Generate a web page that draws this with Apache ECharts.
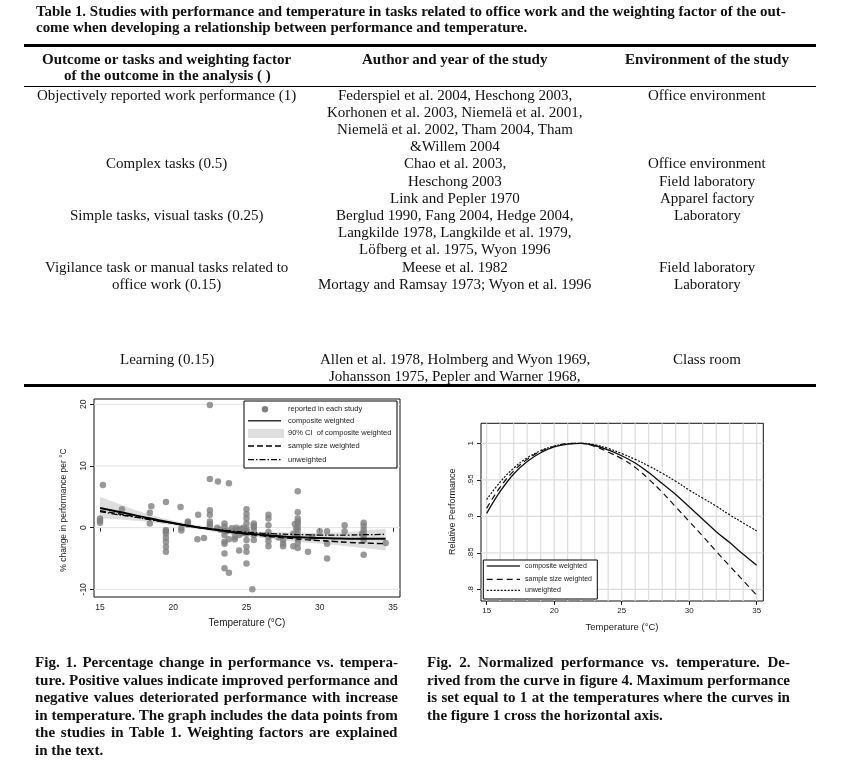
<!DOCTYPE html>
<html><head><meta charset="utf-8">
<script src="https://cdn.jsdelivr.net/npm/echarts@6/dist/echarts.min.js"></script>
<style>
html,body{margin:0;padding:0;background:#fff;}
#wrap{position:relative;width:853px;height:783px;overflow:hidden;background:#fff;}
#chart{position:absolute;left:0;top:0;width:853px;height:783px;}
#txt{position:absolute;left:0;top:0;width:853px;height:783px;pointer-events:none;}
.ln{position:absolute;white-space:nowrap;color:#111;font-family:"Liberation Serif","Times New Roman",serif;}
.rule{position:absolute;background:#000;}
</style></head><body>
<div id="wrap"><div id="chart"></div><div id="txt"></div></div>
<script>
// ---------------- DATA ----------------
const tableTitle = [
  "Table 1. Studies with performance and temperature in tasks related to office work and the weighting factor of the out-",
  "come when developing a relationship between performance and temperature."
];
const tableHeaderCol1 = ["Outcome or tasks and weighting factor", "of the outcome in the analysis ( )"];
const tableHeaderCol2 = ["Author and year of the study"];
const tableHeaderCol3 = ["Environment of the study"];
const tableCol1 = ["Objectively reported work performance (1)", "", "", "", "Complex tasks (0.5)", "", "", "Simple tasks, visual tasks (0.25)", "", "", "Vigilance task or manual tasks related to", "office work (0.15)", "Learning (0.15)", ""];
const tableCol2 = ["Federspiel et al. 2004, Heschong 2003,", "Korhonen et al. 2003, Niemelä et al. 2001,", "Niemelä et al. 2002, Tham 2004, Tham", "&Willem 2004", "Chao et al. 2003,", "Heschong 2003", "Link and Pepler 1970", "Berglud 1990, Fang 2004, Hedge 2004,", "Langkilde 1978, Langkilde et al. 1979,", "Löfberg et al. 1975, Wyon 1996", "Meese et al. 1982", "Mortagy and Ramsay 1973; Wyon et al. 1996", "Allen et al. 1978, Holmberg and Wyon 1969,", "Johansson 1975, Pepler and Warner 1968,"];
const tableCol3 = ["Office environment", "", "", "", "Office environment", "Field laboratory", "Apparel factory", "Laboratory", "", "", "Field laboratory", "Laboratory", "Class room", ""];
const caption1 = [
  "Fig. 1. Percentage change in performance vs. tempera-",
  "ture. Positive values indicate improved performance and",
  "negative values deteriorated performance with increase",
  "in temperature. The graph includes the data points from",
  "the studies in Table 1. Weighting factors are explained",
  "in the text."
];
const caption2 = [
  "Fig. 2. Normalized performance vs. temperature. De-",
  "rived from the curve in figure 4. Maximum performance",
  "is set equal to 1 at the temperatures where the curves in",
  "the figure 1 cross the horizontal axis."
];

const fig1Temp       = [15, 16, 17, 18, 19, 20, 21, 22, 23, 24, 25, 26, 27, 28, 29, 30, 31, 32, 33, 34.5];
const fig1Composite  = [3.2, 2.7, 2.2, 1.7, 1.2, 0.75, 0.3, -0.05, -0.4, -0.7, -0.95, -1.15, -1.35, -1.5, -1.6, -1.7, -1.75, -1.8, -1.8, -1.8];
const fig1SampleSize = [2.75, 2.35, 1.95, 1.5, 1.1, 0.7, 0.3, -0.05, -0.4, -0.75, -1.05, -1.3, -1.55, -1.75, -1.95, -2.1, -2.25, -2.4, -2.5, -2.6];
const fig1Unweighted = [2.6, 2.2, 1.85, 1.45, 1.05, 0.7, 0.35, 0.0, -0.3, -0.55, -0.75, -0.9, -1.0, -1.1, -1.15, -1.2, -1.2, -1.2, -1.15, -1.1];
const fig1CiUpper    = [5.0, 4.1, 3.2, 2.4, 1.7, 1.1, 0.6, 0.25, -0.05, -0.3, -0.5, -0.65, -0.75, -0.8, -0.85, -0.85, -0.8, -0.7, -0.5, -0.2];
const fig1CiLower    = [1.5, 1.4, 1.2, 1.0, 0.7, 0.4, 0.0, -0.35, -0.75, -1.1, -1.4, -1.65, -1.95, -2.2, -2.4, -2.6, -2.8, -3.05, -3.3, -3.7];
const fig1Studies = [
  [15.0,1.5],[15.0,1.1],[15.0,0.8],[15.2,6.9],[16.5,3.0],[18.5,3.45],[18.4,2.4],[18.4,0.65],
  [19.5,4.15],[19.5,-0.4],[19.5,-0.95],[19.5,-1.65],[19.5,-2.3],[19.5,-3.1],[19.5,-3.9],[19.5,-0.6],
  [20.5,3.35],[20.55,-0.05],[20.55,-0.45],[21.0,1.0],[21.0,0.5],[21.0,0.8],
  [21.7,2.1],[21.65,-1.9],[22.1,-1.7],
  [22.5,19.9],[22.5,7.9],[22.5,2.8],[22.5,2.1],[22.5,1.0],[22.5,0.3],[22.5,0.6],
  [23.05,7.5],[23.8,7.2],[23.0,0.0],[23.2,-0.3],
  [23.5,0.65],[23.5,0.1],[23.5,-0.6],[23.5,-1.2],[23.5,-2.3],[23.5,-2.6],[23.5,-4.2],[23.5,-6.6],
  [23.8,-7.3],[23.8,-1.9],[23.7,-0.5],
  [24.0,-0.1],[24.1,-0.6],[24.2,-1.9],[24.3,0.0],[24.4,-0.4],[24.5,-3.7],[24.5,-1.2],[24.6,-0.2],[24.7,-0.9],[24.8,0.0],[24.2,-1.5],
  [25.0,3.0],[25.0,2.2],[25.0,1.5],[25.0,0.65],[25.0,-0.2],[25.0,-1.0],[25.0,-2.0],[25.0,-3.1],[25.0,-3.9],[25.0,-5.8],[25.0,-0.6],
  [25.4,-10.0],
  [25.5,0.65],[25.5,0.1],[25.5,-0.4],[25.5,-1.2],[25.5,-2.0],[25.5,0.35],
  [26.5,2.1],[26.5,1.5],[26.5,0.4],[26.5,-0.7],[26.5,-1.5],[26.5,-2.2],[26.5,-3.0],
  [27.5,-2.0],[27.5,-2.6],[27.5,-3.0],[27.2,-1.6],
  [28.2,-1.0],[28.2,-3.0],
  [28.5,5.9],[28.5,2.5],[28.5,1.5],[28.5,1.0],[28.5,0.65],[28.5,0.1],[28.5,-0.4],[28.5,-1.1],[28.5,-1.8],[28.5,-2.5],[28.5,-3.3],[28.3,0.6],[28.4,-0.2],
  [29.2,-3.9],[29.5,-1.5],[30.0,-0.6],
  [30.5,-0.6],[30.5,-2.6],[30.5,-5.0],
  [31.7,0.4],[31.7,-0.6],
  [33.0,0.8],[33.0,0.3],[33.0,-0.3],[33.0,-0.8],[33.0,-1.35],[33.0,-2.0],[33.0,-4.4],[32.9,-1.0],
  [34.5,-2.5]
];
const fig1XTicks = [15, 20, 25, 30, 35];
const fig1YTicks = [-10, 0, 10, 20];
const fig1YGrid  = [-10, 0, 10, 20];

const fig2Temp       = [15, 16, 17, 18, 19, 20, 21, 22, 23, 24, 25, 26, 27, 28, 29, 30, 31, 32, 33, 34, 35];
const fig2Composite  = [0.904, 0.934, 0.958, 0.975, 0.987, 0.995, 0.999, 1.0, 0.997, 0.991, 0.983, 0.973, 0.96, 0.945, 0.93, 0.913, 0.896, 0.879, 0.864, 0.848, 0.833];
const fig2SampleSize = [0.911, 0.94, 0.962, 0.978, 0.989, 0.996, 0.9995, 1.0, 0.996, 0.988, 0.979, 0.967, 0.951, 0.933, 0.913, 0.893, 0.873, 0.852, 0.832, 0.812, 0.792];
const fig2Unweighted = [0.923, 0.947, 0.966, 0.98, 0.99, 0.996, 0.9995, 1.0, 0.998, 0.993, 0.986, 0.978, 0.969, 0.959, 0.948, 0.936, 0.925, 0.914, 0.902, 0.891, 0.88];
const fig2XTicks = [15, 20, 25, 30, 35];
const fig2YTicks = [0.8, 0.85, 0.9, 0.95, 1];
const fig2YTickLabels = [".8", ".85", ".9", ".95", "1"];
const fig2XGrid = [15, 16, 17, 18, 19, 20, 21, 22, 23, 24, 25, 26, 27, 28, 29, 30, 31, 32, 33, 34, 35];
const fig2YGrid = [0.8, 0.85, 0.9, 0.95, 1];

const fig1Legend = ["reported in each study", "composite weighted", "90% CI  of composite weighted", "sample size weighted", "unweighted"];
const fig2Legend = ["composite weighted", "sample size weighted", "unweighted"];
const fig1XName = "Temperature (°C)";
const fig1YName = "% change in performance per °C";
const fig2XName = "Temperature (°C)";
const fig2YName = "Relative Performance";

// ---------------- TEXT LAYER ----------------
const txt = document.getElementById('txt');
const mctx = document.createElement('canvas').getContext('2d');
function tw(t, f) { mctx.font = f; return mctx.measureText(t).width; }
function put(t, x, y, size, bold, s, align, justifyW) {
  if (!t) return;
  const f = (bold ? 'bold ' : '') + size + 'px "Liberation Serif"';
  const d = document.createElement('div');
  d.className = 'ln';
  d.textContent = t;
  d.style.font = f;
  d.style.lineHeight = (size * 1.2) + 'px';
  d.style.top = (y - size * 0.61) + 'px';
  const nat = tw(t, f);
  if (justifyW) {
    const n = t.split(' ').length - 1;
    if (n > 0) d.style.wordSpacing = ((justifyW / s - nat) / n) + 'px';
  }
  const left = align === 'center' ? x - nat * s / 2 : x;
  d.style.left = left + 'px';
  d.style.transformOrigin = '0 0';
  d.style.transform = 'scaleX(' + s + ')';
  txt.appendChild(d);
}
function rule(x, y, w, h) {
  const d = document.createElement('div');
  d.className = 'rule';
  d.style.left = x + 'px'; d.style.top = y + 'px';
  d.style.width = w + 'px'; d.style.height = h + 'px';
  txt.appendChild(d);
}
const sTitle = 750 / tw(tableTitle[0], 'bold 14px "Liberation Serif"');
const sHead = 186 / tw(tableHeaderCol2[0], 'bold 14.5px "Liberation Serif"');
const sBody = (274 / tw(tableCol2[11], '15px "Liberation Serif"') + 255 / tw(tableCol2[1], '15px "Liberation Serif"')) / 2;
const sCap = 363 / tw(caption1[1], 'bold 14.5px "Liberation Serif"');

put(tableTitle[0], 36, 13, 14, true, sTitle, 'left');
put(tableTitle[1], 36, 29, 14, true, sTitle, 'left');
rule(24, 44, 792, 3);
const colX = [167, 455, 707];
put(tableHeaderCol1[0], colX[0], 60, 14.5, true, sHead, 'center');
put(tableHeaderCol1[1], colX[0], 76, 14.5, true, sHead, 'center');
put(tableHeaderCol2[0], colX[1], 60, 14.5, true, sHead, 'center');
put(tableHeaderCol3[0], colX[2], 60, 14.5, true, sHead, 'center');
rule(24, 86, 792, 1);
const rowY = [95, 112, 129, 146, 163, 181, 198, 215, 232, 249, 267, 284, 359, 376];
[tableCol1, tableCol2, tableCol3].forEach((col, ci) => {
  col.forEach((t, i) => put(t, colX[ci], rowY[i], 15, false, sBody, 'center'));
});
rule(24, 384, 792, 3);
const capY = [663, 681, 698, 716, 733, 751];
caption1.forEach((t, i) => put(t, 35, capY[i], 14.5, true, sCap, 'left', i < caption1.length - 1 ? 363 : 0));
caption2.forEach((t, i) => put(t, 427, capY[i], 14.5, true, sCap, 'left', i < caption2.length - 1 ? 363 : 0));

// ---------------- CHARTS ----------------
const chart = echarts.init(document.getElementById('chart'), null, { renderer: 'canvas' });
const SANS = '"Liberation Sans", Arial, sans-serif';
const F1X = [14.59, 35.48], F1Y = [-11.25, 20.86];
const F2X = [14.58, 35.49], F2Y = [0.784, 1.0274];

function pairs(xs, ys) { return xs.map((x, i) => [x, ys[i]]); }
function gridSeries(lines, dir, xi, range, color, width) {
  return lines.map(v => ({
    type: 'line', xAxisIndex: xi, yAxisIndex: xi, silent: true, symbol: 'none', z: 1,
    data: dir === 'h' ? [[range[0], v], [range[1], v]] : [[v, range[0]], [v, range[1]]],
    lineStyle: { color: color, width: width }, animation: false
  }));
}
function axisX(gi, range, ticks, fs) {
  return {
    type: 'value', gridIndex: gi, min: range[0], max: range[1],
    axisLine: { show: false },
    axisTick: { show: true, customValues: ticks, length: 4, lineStyle: { color: '#222', width: 1 } },
    axisLabel: { customValues: ticks, color: '#222', fontSize: fs, fontFamily: SANS, margin: 6 },
    splitLine: { show: false }
  };
}
function axisY(gi, range, ticks, fs, fmt) {
  return {
    type: 'value', gridIndex: gi, min: range[0], max: range[1],
    axisLine: { show: false },
    axisTick: { show: true, customValues: ticks, length: 4, lineStyle: { color: '#222', width: 1 } },
    axisLabel: { customValues: ticks, color: '#222', fontSize: fs, fontFamily: SANS, rotate: 90, margin: 6, formatter: fmt },
    splitLine: { show: false }
  };
}

const series = [].concat(
  gridSeries(fig1YGrid, 'h', 0, F1X, '#e3e3e3', 1),
  gridSeries(fig2XGrid, 'v', 1, F2Y, '#dcdcdc', 1.2),
  gridSeries(fig2YGrid, 'h', 1, F2X, '#dcdcdc', 1.2),
  [
    { type: 'custom', xAxisIndex: 0, yAxisIndex: 0, z: 2, silent: true, data: [[25, 0]],
      renderItem: function (params, api) {
        const pts = [];
        for (let i = 0; i < fig1Temp.length; i++) pts.push(api.coord([fig1Temp[i], fig1CiUpper[i]]));
        for (let i = fig1Temp.length - 1; i >= 0; i--) pts.push(api.coord([fig1Temp[i], fig1CiLower[i]]));
        return { type: 'polygon', shape: { points: pts }, style: { fill: '#dedede' } };
      } },
    { type: 'scatter', xAxisIndex: 0, yAxisIndex: 0, z: 3, symbol: 'circle', symbolSize: 6.5,
      data: fig1Studies, itemStyle: { color: '#808080' } },
    { type: 'line', xAxisIndex: 0, yAxisIndex: 0, z: 4, smooth: 0.4, symbol: 'none',
      data: pairs(fig1Temp, fig1SampleSize), lineStyle: { color: '#000', width: 1.4, type: [6, 3] } },
    { type: 'line', xAxisIndex: 0, yAxisIndex: 0, z: 4, smooth: 0.4, symbol: 'none',
      data: pairs(fig1Temp, fig1Unweighted), lineStyle: { color: '#000', width: 1.3, type: [6, 2, 1.5, 2] } },
    { type: 'line', xAxisIndex: 0, yAxisIndex: 0, z: 5, smooth: 0.4, symbol: 'none',
      data: pairs(fig1Temp, fig1Composite), lineStyle: { color: '#000', width: 2 } },
    { type: 'line', xAxisIndex: 1, yAxisIndex: 1, z: 4, smooth: 0.4, symbol: 'none',
      data: pairs(fig2Temp, fig2Composite), lineStyle: { color: '#111', width: 1.3 } },
    { type: 'line', xAxisIndex: 1, yAxisIndex: 1, z: 4, smooth: 0.4, symbol: 'none',
      data: pairs(fig2Temp, fig2SampleSize), lineStyle: { color: '#111', width: 1.2, type: [6, 4] } },
    { type: 'line', xAxisIndex: 1, yAxisIndex: 1, z: 4, smooth: 0.4, symbol: 'none',
      data: pairs(fig2Temp, fig2Unweighted), lineStyle: { color: '#111', width: 1.2, type: [2, 1.5] } }
  ]
);

function gtext(t, x, y, size, rot, align) {
  return { type: 'text', x: x, y: y, rotation: rot || 0, z: 100,
    style: { text: t, font: size + 'px ' + SANS, fill: '#222',
      textAlign: align || 'center', align: align || 'center', textVerticalAlign: 'middle', verticalAlign: 'middle' } };
}
function gline(x1, x2, y, w, dash, color) {
  return { type: 'line', z: 100, shape: { x1: x1, y1: y, x2: x2, y2: y },
    style: { stroke: color || '#222', lineWidth: w, lineDash: dash || null } };
}
const graphic = [
  { type: 'rect', z: 99, shape: { x: 244, y: 401, width: 153, height: 67 }, style: { fill: '#fff', stroke: '#000', lineWidth: 1 } },
  { type: 'circle', z: 100, shape: { cx: 265, cy: 409.3, r: 3.2 }, style: { fill: '#808080' } },
  gtext(fig1Legend[0], 288, 409.3, 7.5, 0, 'left'),
  gline(248, 281, 420.7, 1.6, null, '#333'),
  gtext(fig1Legend[1], 288, 420.7, 7.5, 0, 'left'),
  { type: 'rect', z: 100, shape: { x: 248, y: 429, width: 36, height: 9 }, style: { fill: '#dedede' } },
  gtext(fig1Legend[2], 288, 433.3, 7.5, 0, 'left'),
  gline(248, 281, 446, 1.3, [6, 3], '#000'),
  gtext(fig1Legend[3], 288, 446, 7.5, 0, 'left'),
  gline(248, 281, 459.7, 1.2, [6, 2, 1.5, 2], '#000'),
  gtext(fig1Legend[4], 288, 459.7, 7.5, 0, 'left'),
  { type: 'rect', z: 99, shape: { x: 483.3, y: 560, width: 114, height: 39 }, style: { fill: '#fff', stroke: '#000', lineWidth: 1 } },
  gline(486.7, 520, 566, 1.3, null, '#333'),
  gtext(fig2Legend[0], 525, 566, 7, 0, 'left'),
  gline(486.7, 520, 579.3, 1.2, [6, 4], '#111'),
  gtext(fig2Legend[1], 525, 579.3, 7, 0, 'left'),
  gline(486.7, 520, 590.3, 1.2, [2, 1.5], '#111'),
  gtext(fig2Legend[2], 525, 590.3, 7, 0, 'left'),
  gtext(fig1XName, 247, 623.5, 10, 0, 'center'),
  gtext(fig1YName, 64, 510, 8.5, Math.PI / 2, 'center'),
  gtext(fig2XName, 622, 627.3, 9.5, 0, 'center'),
  gtext(fig2YName, 452.3, 511.7, 9, Math.PI / 2, 'center')
];

chart.setOption({
  animation: false,
  backgroundColor: 'transparent',
  grid: [
    { left: 94, top: 399, width: 306, height: 198, show: true, borderColor: '#111', borderWidth: 1, backgroundColor: 'transparent' },
    { left: 481, top: 423.3, width: 282.3, height: 177.7, show: true, borderColor: '#111', borderWidth: 1, backgroundColor: 'transparent' }
  ],
  xAxis: [axisX(0, F1X, fig1XTicks, 8.5), axisX(1, F2X, fig2XTicks, 8)],
  yAxis: [
    axisY(0, F1Y, fig1YTicks, 8.5),
    axisY(1, F2Y, fig2YTicks, 8, v => { const k = fig2YTicks.findIndex(t => Math.abs(t - v) < 1e-6); return k >= 0 ? fig2YTickLabels[k] : ''; })
  ],
  series: series,
  graphic: graphic
});
</script></body></html>
